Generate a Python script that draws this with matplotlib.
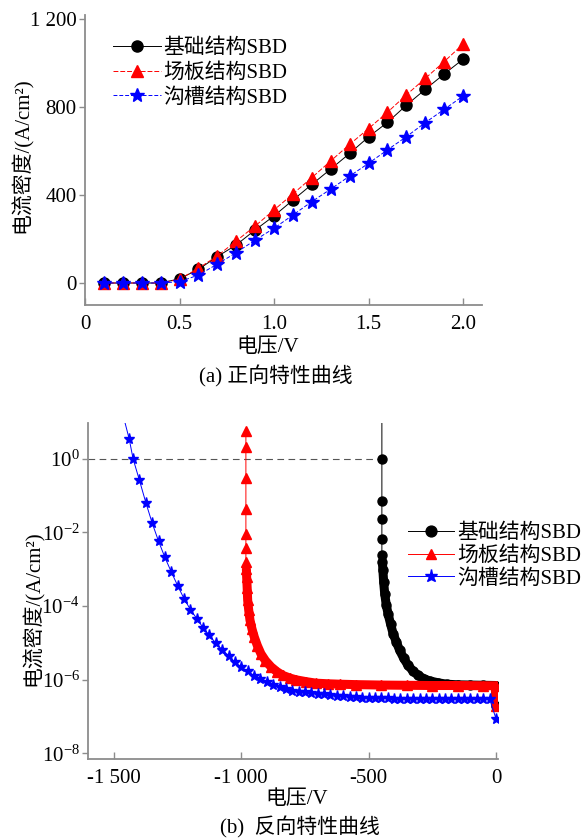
import matplotlib
matplotlib.use('Agg')
import matplotlib.pyplot as plt
import numpy as np
from matplotlib.ticker import NullLocator

plt.rcParams['font.family'] = ['Liberation Serif', 'Noto Sans CJK SC']
plt.rcParams['mathtext.fontset'] = 'custom'
plt.rcParams['mathtext.rm'] = 'Liberation Serif'
plt.rcParams['mathtext.it'] = 'Liberation Serif:italic'

names = ['基础结构SBD', '场板结构SBD', '沟槽结构SBD']

# (a) forward characteristics, A/cm^2
v_fwd = [0.1, 0.2, 0.3, 0.4, 0.5, 0.6, 0.7, 0.8, 0.9, 1.0,
         1.1, 1.2, 1.3, 1.4, 1.5, 1.6, 1.7, 1.8, 1.9, 2.0]
j_base = [0, 0, 0, 0, 19, 62, 120, 173, 241, 305,
          377, 448, 518, 589, 664, 730, 808, 880, 950, 1017]
j_plate = [0, 0, 0, 0, 17, 67, 123, 191, 259, 332,
           405, 479, 555, 630, 702, 776, 855, 930, 1006, 1086]
j_trench = [0, 0, 0, 0, 6, 36, 86, 138, 195, 249,
            309, 370, 427, 486, 544, 605, 665, 729, 789, 850]

# (b) reverse characteristics: breakdown steps, then leakage sweep
bv_base = [-448, -448, -448, -448, -448, -448]
bj_base = [100, 1.0, 0.071, 0.023, 0.0065, 0.0025]
lv_base = [-446, -444, -441, -437, -431, -424, -414, -404, -391, -378,
           -362, -345, -326, -306, -283, -260, -227, -194, -150, -100,
           -50, -1, 0]
lj_base = [1.6e-3, 9.5e-4, 4.5e-4, 2.2e-4, 1.1e-4, 6.3e-5, 3.3e-5, 1.8e-5,
           1.05e-5, 6.3e-6, 3.8e-6, 2.45e-6, 1.74e-6, 1.32e-6, 1.07e-6,
           9.3e-7, 8.3e-7, 7.6e-7, 7.3e-7, 7.2e-7, 7.1e-7, 7.0e-7, 2.0e-7]

bv_plate = [-982, -982, -982, -982, -982, -982, -982]
bj_plate = [5.75, 2.04, 0.31, 0.043, 0.0093, 0.0037, 0.0016]
lv_plate = [-980, -979, -977, -975, -971, -966, -958, -949, -937, -923,
            -905, -883, -860, -837, -810, -785, -745, -706, -660, -614,
            -550, -450, -350, -250, -150, -50, -1, 0]
lj_plate = [1.0e-3, 6.2e-4, 3.2e-4, 1.45e-4, 7.9e-5, 4.2e-5, 2.4e-5, 1.45e-5,
            8.5e-6, 5.1e-6, 3.3e-6, 2.24e-6, 1.66e-6, 1.32e-6, 1.12e-6,
            1.0e-6, 8.9e-7, 8.1e-7, 7.8e-7, 7.6e-7, 7.4e-7, 7.2e-7, 7.1e-7,
            7.0e-7, 7.0e-7, 6.9e-7, 6.9e-7, 2.0e-7]

v_trench_r = [-1465, -1440, -1425, -1400, -1375, -1350, -1325, -1300, -1275,
              -1250, -1225, -1200, -1175, -1150, -1125, -1100, -1075, -1050,
              -1025, -1000, -975, -950, -925, -900, -875, -850, -825, -800,
              -775, -750, -725, -700, -675, -650, -625, -600, -575, -550,
              -525, -500, -475, -450, -425, -400, -375, -350, -325, -300,
              -275, -250, -225, -200, -175, -150, -125, -100, -75, -50,
              -25, 0]
j_trench_r = [16, 3.4, 1.0, 0.26, 0.065, 0.018, 5.8e-3, 2.1e-3, 8.5e-4,
              3.6e-4, 1.6e-4, 8.1e-5, 4.6e-5, 2.6e-5, 1.6e-5, 9.8e-6, 6.6e-6,
              4.5e-6, 3.0e-6, 2.2e-6, 1.7e-6, 1.3e-6, 1.07e-6, 8.7e-7, 7.4e-7,
              6.3e-7, 5.6e-7, 5.0e-7, 4.8e-7, 4.6e-7, 4.4e-7, 4.2e-7, 4.0e-7,
              3.85e-7, 3.7e-7, 3.6e-7, 3.5e-7, 3.4e-7, 3.3e-7, 3.25e-7,
              3.2e-7, 3.15e-7, 3.12e-7, 3.1e-7, 3.1e-7, 3.08e-7, 3.06e-7,
              3.05e-7, 3.04e-7, 3.03e-7, 3.02e-7, 3.01e-7, 3.0e-7, 3.0e-7,
              3.0e-7, 3.0e-7, 3.0e-7, 3.0e-7, 3.0e-7, 8.9e-8]

gray = '#8c8c8c'
fs = 15

fig = plt.figure(figsize=(5.85, 8.39), dpi=100)
ax1 = fig.add_axes([85/585, 1-305/839, (482-85)/585, (305-15)/839])
ax2 = fig.add_axes([88/585, 1-759/839, (498-88)/585, (759-422.7)/839])

for ax in (ax1, ax2):
    for s in ('top', 'right'):
        ax.spines[s].set_visible(False)
    for s in ('left', 'bottom'):
        ax.spines[s].set_color(gray)
        ax.spines[s].set_linewidth(1.3)
    ax.tick_params(axis='y', direction='out', length=4, width=1, color=gray,
                   labelsize=fs, pad=2)
    ax.tick_params(axis='x', direction='in', length=5, width=1, color=gray,
                   labelsize=fs, pad=7)

# ---- (a) forward
ax1.plot(v_fwd, j_base, color='black', lw=0.7, marker='o', ms=8,
         label=names[0])
ax1.plot(v_fwd, j_plate, color='red', lw=0.7, ls=(0, (5, 2)), marker='^',
         ms=9, label=names[1])
ax1.plot(v_fwd, j_trench, color='blue', lw=0.7, ls=(0, (4, 2)), marker='*',
         ms=10, label=names[2])
ax1.set_xlim(0, 2.1)
ax1.set_ylim(-100, 1218)
ax1.set_xticks([0, 0.5, 1.0, 1.5, 2.0])
ax1.set_xticklabels(['0', '0.5', '1.0', '1.5', '2.0'])
ax1.set_yticks([0, 400, 800, 1200])
ax1.set_yticklabels(['0', '400', '800', '1 200'])
ax1.legend(loc='upper left', bbox_to_anchor=(103/585, 1-28/839),
           bbox_transform=fig.transFigure, frameon=False, fontsize=fs,
           borderpad=0, handlelength=2.3, handletextpad=0.1,
           labelspacing=0.25)

# ---- (b) reverse
ax2.set_yscale('log')
ax2.hlines(1.0, -1602, bv_base[0], colors='#555555', lw=0.8,
           linestyles=(0, (6, 4)))

ax2.plot(lv_base, lj_base, color='black', lw=6.5, solid_capstyle='round')
ax2.plot(bv_base + lv_base, bj_base + lj_base, color='black', lw=0.7,
         marker='o', ms=6.5, label=names[0])
ax2.plot(lv_plate, lj_plate, color='red', lw=6.5, solid_capstyle='round')
ax2.plot(bv_plate + lv_plate, bj_plate + lj_plate, color='red', lw=0.7,
         marker='^', ms=6.5, label=names[1])
ax2.plot(v_trench_r, j_trench_r, color='blue', lw=0.7, marker='*', ms=8,
         label=names[2])

ax2.set_xlim(-1602, 8)
ax2.set_ylim(10**-8.15, 10**0.98)
ax2.set_xticks([-1500, -1000, -500, 0])
ax2.set_xticklabels(['-1 500', '-1 000', '-500', '0'])
ax2.set_yticks([1e0, 1e-2, 1e-4, 1e-6, 1e-8])
ax2.set_yticklabels([r'$\mathregular{10^{0}}$', r'$\mathregular{10^{-2}}$',
                     r'$\mathregular{10^{-4}}$', r'$\mathregular{10^{-6}}$',
                     r'$\mathregular{10^{-8}}$'])
ax2.yaxis.set_minor_locator(NullLocator())
ax2.legend(loc='upper left', bbox_to_anchor=(398/585, 1-513/839),
           bbox_transform=fig.transFigure, frameon=False, fontsize=fs,
           borderpad=0, handlelength=2.2, handletextpad=0.15,
           labelspacing=0.15, markerscale=1.2)

# axis titles and captions
ylab = '电流密度/(A/cm²)'
fig.text(22/585, 1-155/839, ylab, rotation=90, ha='center', va='center',
         fontsize=fs)
fig.text(268/585, 1-348/839, '电压/V', ha='center', va='center', fontsize=fs)
fig.text(276/585, 1-376/839, '(a) 正向特性曲线', ha='center', va='center',
         fontsize=fs)
fig.text(33/585, 1-608/839, ylab, rotation=90, ha='center', va='center',
         fontsize=fs)
fig.text(297/585, 1-800/839, '电压/V', ha='center', va='center', fontsize=fs)
fig.text(300/585, 1-827/839, '(b)  反向特性曲线', ha='center', va='center',
         fontsize=fs)

fig.savefig('out.png', dpi=100)
